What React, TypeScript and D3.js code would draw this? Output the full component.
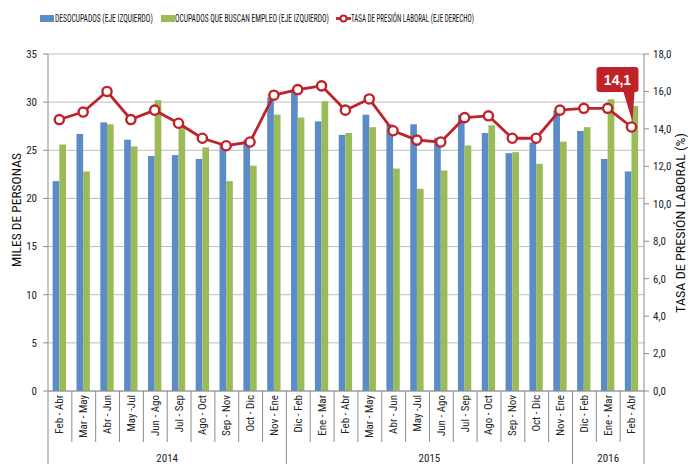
import React, { useLayoutEffect, useRef, useState } from "react";
import * as d3 from "d3";

const periods = [
  "Feb - Abr", "Mar - May", "Abr - Jun", "May -Jul", "Jun - Ago", "Jul - Sep", "Ago - Oct", "Sep - Nov", "Oct - Dic", "Nov - Ene",
  "Dic - Feb", "Ene - Mar", "Feb - Abr", "Mar - May", "Abr - Jun", "May -Jul", "Jun - Ago", "Jul - Sep", "Ago - Oct", "Sep - Nov", "Oct - Dic", "Nov - Ene",
  "Dic - Feb", "Ene - Mar", "Feb - Abr",
];
const years = ["2014", "2015", "2016"];
const yearCounts = [10, 12, 3];

const desocupados = [21.8, 26.7, 27.9, 26.1, 24.4, 24.5, 24.1, 25.6, 26.1, 30.5, 31.2, 28.0, 26.6, 28.7, 27.7, 27.7, 26.3, 28.7, 26.8, 24.7, 25.8, 29.1, 27.0, 24.1, 22.8];
const ocupadosBuscan = [25.6, 22.8, 27.7, 25.4, 30.2, 27.6, 25.3, 21.8, 23.4, 28.7, 28.4, 30.1, 26.8, 27.4, 23.1, 21.0, 22.9, 25.5, 27.6, 24.8, 23.6, 25.9, 27.4, 30.3, 29.6];
const tasaPresion = [14.5, 14.9, 16.0, 14.5, 15.0, 14.3, 13.5, 13.1, 13.3, 15.8, 16.1, 16.3, 15.0, 15.6, 13.9, 13.4, 13.3, 14.6, 14.7, 13.5, 13.5, 15.0, 15.1, 15.1, 14.1];

const leftTicks = [0, 5, 10, 15, 20, 25, 30, 35];
const rightTicks = [0, 2, 4, 6, 8, 10, 12, 14, 16, 18];

const legendItems = [
  "DESOCUPADOS (EJE IZQUIERDO)",
  "OCUPADOS QUE BUSCAN EMPLEO (EJE IZQUIERDO)",
  "TASA DE PRESIÓN LABORAL (EJE DERECHO)",
];

const BLUE = "#5b8cc8";
const GREEN = "#9bbb59";
const RED = "#c0222a";
const GRID = "#bdbdbd";
const AXIS = "#8c8c8c";
const FONT = "'Liberation Sans Narrow', 'Arial Narrow', 'Roboto Condensed', 'DejaVu Sans Condensed', sans-serif";

// Text squeezed horizontally (along its own baseline) to a target width
function FitText(props: { x: number; y: number; width: number; rotate?: number; anchor?: "start" | "middle"; fontSize: number; children: string }) {
  const ref = useRef<SVGTextElement>(null);
  const [k, setK] = useState(1);
  useLayoutEffect(() => {
    if (ref.current) {
      const w = ref.current.getComputedTextLength();
      if (w > 0) setK(props.width / w);
    }
  }, [props.width, props.children]);
  const rot = props.rotate ?? 0;
  return (
    <g transform={`translate(${props.x},${props.y}) rotate(${rot}) scale(${k},1)`}>
      <text ref={ref} x={0} y={0} dy="0.35em" textAnchor={props.anchor ?? "start"} fontSize={props.fontSize} fill="#111">
        {props.children}
      </text>
    </g>
  );
}

export default function App() {
  const W = 688, H = 464;
  const left = 48, right = 644, top = 54, bottom = 391;
  const idx = periods.map((_, i) => i);
  const x = d3.scaleBand<number>().domain(idx).range([left, right]).padding(0);
  const y = d3.scaleLinear().domain([0, 35]).range([bottom, top]);
  const y2 = d3.scaleLinear().domain([0, 18]).range([bottom, top]);
  const bw = x.bandwidth() * 0.28;
  const cx = (i: number) => (x(i) as number) + x.bandwidth() / 2 - 0.6;

  const line = d3.line<number>().x((_, i) => cx(i)).y((d) => y2(d));

  const bounds: number[] = [0];
  yearCounts.forEach((c) => bounds.push(bounds[bounds.length - 1] + c));
  const bx = (k: number) => (k >= periods.length ? right : (x(k) as number));

  const lastI = tasaPresion.length - 1;
  const lx = cx(lastI), ly = y2(tasaPresion[lastI]);

  return (
    <svg width={W} height={H} style={{ position: "absolute", left: 0, top: 0, background: "#fff" }} fontFamily={FONT}>
      {leftTicks.map((t) => (
        <line key={"g" + t} x1={left} x2={right} y1={y(t)} y2={y(t)} stroke={GRID} strokeWidth={1} />
      ))}
      {desocupados.map((v, i) => (
        <rect key={"b" + i} x={cx(i) - bw} y={y(v)} width={bw} height={bottom - y(v)} fill={BLUE} />
      ))}
      {ocupadosBuscan.map((v, i) => (
        <rect key={"o" + i} x={cx(i)} y={y(v)} width={bw} height={bottom - y(v)} fill={GREEN} />
      ))}
      <line x1={left} x2={left} y1={top} y2={bottom} stroke={AXIS} />
      <line x1={right} x2={right} y1={top} y2={bottom} stroke={AXIS} />
      <line x1={left} x2={right} y1={bottom} y2={bottom} stroke={AXIS} />
      {leftTicks.map((t) => (
        <g key={"lt" + t}>
          <line x1={left - 5} x2={left} y1={y(t)} y2={y(t)} stroke={AXIS} />
          <text x={37} y={y(t)} dy="0.35em" textAnchor="end" fontSize={11} fill="#222">{t}</text>
        </g>
      ))}
      {rightTicks.map((t) => (
        <g key={"rt" + t}>
          <line x1={right} x2={right + 5} y1={y2(t)} y2={y2(t)} stroke={AXIS} />
          <text x={653} y={y2(t)} dy="0.35em" textAnchor="start" fontSize={11} fill="#222">{t.toFixed(1).replace(".", ",")}</text>
        </g>
      ))}
      {d3.range(periods.length + 1).map((k) => {
        const isYear = bounds.includes(k);
        return <line key={"s" + k} x1={bx(k)} x2={bx(k)} y1={bottom} y2={isYear ? H : 442} stroke={AXIS} />;
      })}
      {periods.map((p, i) => (
        <text key={"p" + i} transform={`translate(${cx(i) + 4},395) rotate(-90)`} textAnchor="end" fontSize={11} fill="#222">{p}</text>
      ))}
      {years.map((yr, k) => (
        <text key={yr} x={(bx(bounds[k]) + bx(bounds[k + 1])) / 2} y={462} textAnchor="middle" fontSize={11} fill="#222">{yr}</text>
      ))}
      <FitText x={16} y={210} rotate={-90} anchor="middle" fontSize={13} width={114}>MILES DE PERSONAS</FitText>
      <FitText x={680} y={223} rotate={-90} anchor="middle" fontSize={13} width={180}>TASA DE PRESIÓN LABORAL (%)</FitText>
      <path d={line(tasaPresion) || ""} fill="none" stroke={RED} strokeWidth={2.8} strokeLinejoin="round" />
      {tasaPresion.map((v, i) => (
        <circle key={"c" + i} cx={cx(i)} cy={y2(v)} r={4.6} fill="#fff" stroke={RED} strokeWidth={2.4} />
      ))}
      <path d={`M${lx - 16},${ly - 35} L${lx + 3},${ly - 35} L${lx + 1},${ly - 5} L${lx - 8},${ly - 35} Z`} fill={RED} />
      <rect x={lx - 35} y={ly - 60} width={42} height={25} rx={3} fill={RED} />
      <text x={lx - 14} y={ly - 47.5} dy="0.36em" textAnchor="middle" fontSize={14} fontWeight="bold" fill="#fff" fontFamily="'Liberation Sans', Arial, sans-serif">{String(tasaPresion[lastI]).replace(".", ",")}</text>
      <rect x={40} y={15} width={14} height={7} fill={BLUE} />
      <FitText x={55} y={18.5} fontSize={11} width={98}>{legendItems[0]}</FitText>
      <rect x={161} y={15} width={14} height={7} fill={GREEN} />
      <FitText x={175} y={18.5} fontSize={11} width={154}>{legendItems[1]}</FitText>
      <line x1={336} x2={351} y1={18.5} y2={18.5} stroke={RED} strokeWidth={2.8} />
      <circle cx={343.5} cy={18.5} r={3} fill="#fff" stroke={RED} strokeWidth={2} />
      <FitText x={351} y={18.5} fontSize={11} width={123}>{legendItems[2]}</FitText>
    </svg>
  );
}
